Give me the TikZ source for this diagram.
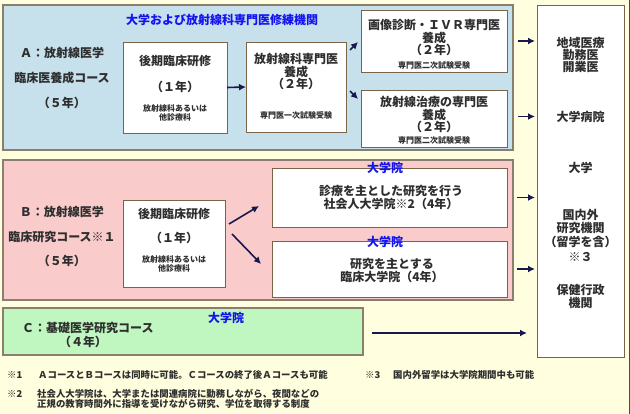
\documentclass[tikz,border=0pt]{standalone}
\usepackage{fontspec}
\setmainfont{Noto Sans CJK JP}
\usetikzlibrary{arrows.meta}
\definecolor{bgc}{HTML}{FFFFDF}
\definecolor{blueA}{HTML}{C6E0EC}
\definecolor{pinkB}{HTML}{F9CBCB}
\definecolor{greenC}{HTML}{C0F7C0}
\definecolor{regbrd}{HTML}{8A7E6E}
\definecolor{boxbrd}{HTML}{7A6448}
\definecolor{txt}{HTML}{2E2E2E}
\definecolor{bluetxt}{HTML}{1414F0}
\definecolor{arrc}{HTML}{18184C}
\definecolor{edge}{HTML}{4A4A4A}
\tikzset{
 region/.style={draw=regbrd, line width=1.1pt, inner sep=0pt, outer sep=0pt, anchor=north west},
 wbox/.style={draw=boxbrd, fill=white, line width=0.9pt, inner sep=0pt, outer sep=0pt, anchor=north west},
 big/.style={font=\bfseries\fontsize{12}{12}\selectfont, text=txt, align=center, inner sep=0pt},
 sml/.style={font=\bfseries\fontsize{8}{8.6}\selectfont, text=txt, align=center, inner sep=0pt},
 note/.style={font=\bfseries\fontsize{9.4}{9.6}\selectfont, text=txt, align=left, inner sep=0pt, anchor=west},
 blab/.style={font=\bfseries\fontsize{12}{12}\selectfont, text=bluetxt, inner sep=0pt},
 arr/.style={draw=arrc, line width=1.6pt, -{Latex[length=7pt,width=7pt]}},
}
\begin{document}
\begin{tikzpicture}[x=1pt,y=-1pt]
\useasboundingbox (0,0) rectangle (630,414);
\fill[bgc] (0,0) rectangle (630,414);
\draw[edge, line width=1pt] (629.5,0) -- (629.5,414);

% regions
\node[region, fill=blueA, minimum width=510pt, minimum height=145pt] (RA) at (3,5) {};
\node[region, fill=pinkB, minimum width=510pt, minimum height=140pt] (RB) at (3,160) {};
\node[region, fill=greenC, minimum width=360pt, minimum height=47pt] (RC) at (3,308) {};
\node[wbox, minimum width=87pt, minimum height=352pt] (R) at (537,5) {};

% boxes
\node[wbox, minimum width=104pt, minimum height=91pt] (A1) at (123,42) {};
\node[wbox, minimum width=100pt, minimum height=90pt] (A2) at (246,42) {};
\node[wbox, minimum width=146pt, minimum height=62pt] (A3) at (361,10) {};
\node[wbox, minimum width=146pt, minimum height=57pt] (A4) at (361,90) {};
\node[wbox, minimum width=102pt, minimum height=87pt] (B1) at (123,200) {};
\node[wbox, minimum width=235pt, minimum height=59pt] (G1) at (272,168) {};
\node[wbox, minimum width=235pt, minimum height=56pt] (G2) at (272,241) {};

% region A texts
\node[blab] (tA) at (222,20) {大学および放射線科専門医修練機関};
\node[big, font=\bfseries\fontsize{12}{25}\selectfont] (lA) at (62,78) {Ａ：放射線医学\\臨床医養成コース\\（５年）};
\node[big] (a1t) at (175,61) {後期臨床研修};
\node[big] (a1y) at (175,87) {（１年）};
\node[sml] (a1s) at (175,113) {放射線科あるいは\\他診療科};
\node[big, font=\bfseries\fontsize{12}{11.5}\selectfont] (a2t) at (296,71.5) {放射線科専門医\\養成\\（２年）};
\node[sml] (a2s) at (296,115) {専門医一次試験受験};
\node[big, font=\bfseries\fontsize{12}{12.5}\selectfont] (a3t) at (434,37.5) {画像診断・ＩＶＲ専門医\\養成\\（２年）};
\node[sml] (a3s) at (434,65) {専門医二次試験受験};
\node[big, font=\bfseries\fontsize{12}{11.5}\selectfont] (a4t) at (434,114.5) {放射線治療の専門医\\養成\\（２年）};
\node[sml] (a4s) at (434,140) {専門医二次試験受験};

% right column texts
\node[big] (r1) at (580.5,55) {地域医療\\勤務医\\開業医};
\node[big] (r2) at (580.5,117) {大学病院};
\node[big] (r3) at (580.5,168) {大学};
\node[big, font=\bfseries\fontsize{12}{13.5}\selectfont] (r4) at (580.5,228) {国内外\\研究機関\\（留学を含）};
\node[big] (r5) at (580.5,257) {※３};
\node[big, font=\bfseries\fontsize{12}{13}\selectfont] (r6) at (580.5,296.5) {保健行政\\機関};

% region B texts
\node[big, font=\bfseries\fontsize{12}{24.5}\selectfont] (lB) at (62,236.5) {Ｂ：放射線医学\\臨床研究コース※１\\（５年）};
\node[big] (b1t) at (174,214) {後期臨床研修};
\node[big] (b1y) at (174,238) {（１年）};
\node[sml] (b1s) at (174,264) {放射線科あるいは\\他診療科};
\node[blab] (g1l) at (385,168) {大学院};
\node[big, font=\bfseries\fontsize{12}{11.5}\selectfont] (g1t) at (391,197.5) {診療を主とした研究を行う\\社会人大学院※2（4年）};
\node[blab] (g2l) at (385,242) {大学院};
\node[big, font=\bfseries\fontsize{12}{12.5}\selectfont] (g2t) at (392,270.5) {研究を主とする\\臨床大学院（4年）};

% region C texts
\node[blab] (cl) at (226,318) {大学院};
\node[big, anchor=west] (ct) at (22,328) {Ｃ：基礎医学研究コース};
\node[big] (cy) at (83,342) {（４年）};

% footnotes
\node[note] (n1m) at (7,375) {※1};
\node[note] (n1) at (38,375) {ＡコースとＢコースは同時に可能。Ｃコースの終了後Ａコースも可能};
\node[note] (n2m) at (7,394) {※2};
\node[note, anchor=north west] (n2) at (37,389) {社会人大学院は、大学または関連病院に勤務しながら、夜間などの\\正規の教育時間外に指導を受けながら研究、学位を取得する制度};
\node[note] (n3m) at (365,375) {※3};
\node[note] (n3) at (393,375) {国内外留学は大学院期間中も可能};

% arrows
\draw[arr] (A1.east) -- (A2.west);
\draw[arr] ([xshift=4pt,yshift=-8pt]A2.north east) -- ([xshift=12pt]A2.north east);
\draw[arr] ([xshift=4pt,yshift=-4pt]A2.east) -- ([xshift=12pt,yshift=-12pt]A2.east);
\draw[arr] ([xshift=11pt]A3.east) -- ([xshift=-2pt]A3.east -| R.west);
\draw[arr] ([xshift=11pt,yshift=2pt]A4.east) -- ([xshift=-2pt,yshift=2pt]A4.east -| R.west);
\draw[arr] ([xshift=4pt,yshift=19.5pt]B1.east) -- ([xshift=-13pt,yshift=-8.5pt]G1.west);
\draw[arr] ([xshift=7pt,yshift=9.5pt]B1.east) -- ([xshift=-11pt,yshift=5pt]G2.west);
\draw[arr] ([xshift=10pt]G1.east) -- ([xshift=-2pt]G1.east -| R.west);
\draw[arr] ([xshift=10pt]G2.east) -- ([xshift=-2pt]G2.east -| R.west);
\draw[arr] ([xshift=9pt,yshift=-1.5pt]RC.east) -- ([xshift=-10pt,yshift=-1.5pt]RC.east -| R.west);
\end{tikzpicture}
\end{document}
